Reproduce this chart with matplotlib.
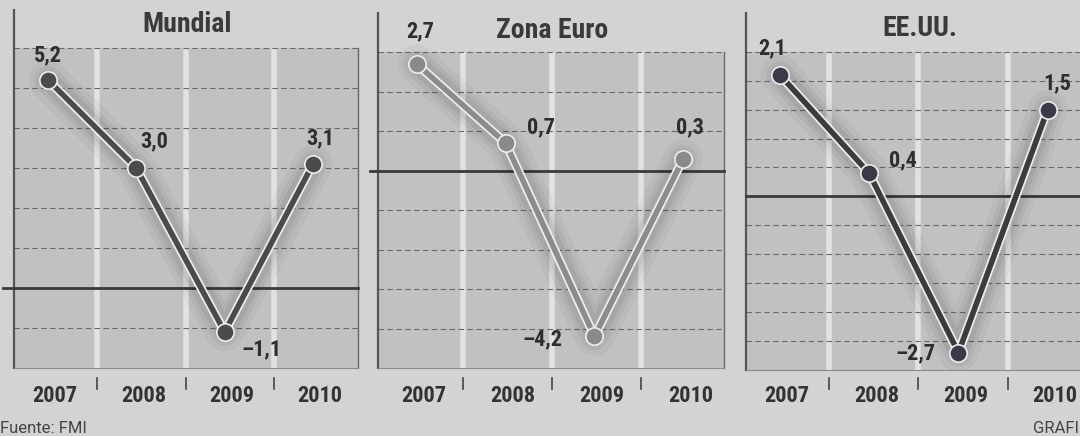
# -*- coding:utf-8 -*-
import matplotlib
matplotlib.use("Agg")
import matplotlib.pyplot as plt
import matplotlib.patheffects as pe
import matplotlib.transforms as mtransforms

years = ["2007", "2008", "2009", "2010"]

titles = ["Mundial", "Zona Euro", "EE.UU."]
mundial = [5.2, 3.0, -1.1, 3.1]
zona_euro = [2.7, 0.7, -4.2, 0.3]
eeuu = [2.1, 0.4, -2.7, 1.5]

W, H = 1080, 436
fig = plt.figure(figsize=(W / 100, H / 100), dpi=100)
fig.patch.set_facecolor("#d3d3d3")

cond = ["Roboto Condensed", "Archivo Narrow", "DejaVu Sans"]

# panel layout in pixels: left, right, top, bottom
panels = [
    dict(title=titles[0], vals=mundial, px=(14, 358, 10, 368), ylim=(-2, 6.95), step=1.0, top=6,
         xlim=(-0.385, 3.51), sep=0.56, zl=3, color="#4b4b4b", mcolor="#4b4b4b",
         title_xy=(187, 25),
         offs=[(0, 25), (18, 27), (37, -17), (7, 26)]),
    dict(title=titles[1], vals=zona_euro, px=(378, 724, 13, 368), ylim=(-5, 4.0), step=1.0, top=3,
         xlim=(-0.44, 3.46), sep=0.52, zl=370, color="#8c8c8c", mcolor="#8a8a8a",
         title_xy=(552, 30),
         offs=[(3, 33), (35, 16), (-52, -3), (7, 32)]),
    dict(title=titles[2], vals=eeuu, px=(746, 1095, 13, 370), ylim=(-3, 3.17), step=0.5, top=2.5,
         xlim=(-0.38, 3.53), sep=0.55, zl=746, color="#3c3c3c", mcolor="#3a3a48",
         title_xy=(920, 28),
         offs=[(-8, 27), (34, 13), (-43, -1), (10, 26)]),
]

for p in panels:
    l, r, t, b = p["px"]
    ax = fig.add_axes([l / W, 1 - b / H, (r - l) / W, (b - t) / H])
    ax.set_xlim(*p["xlim"])
    ax.set_ylim(*p["ylim"])
    ax.axis("off")
    ymin = p["ylim"][0]
    x0, x1 = p["xlim"]

    # plot background
    ax.fill_between([x0, x1], ymin, p["top"], color="#c1c1c1", zorder=0, lw=0)
    # white separators
    for i in range(3):
        ax.plot([i + p["sep"]] * 2, [ymin, p["top"]], color="#e2e2e2", lw=4, zorder=1,
                solid_capstyle="butt")
    # dashed grid
    n = int(round((p["top"] - ymin) / p["step"]))
    for k in range(1, n + 1):
        y = ymin + k * p["step"]
        if abs(y) < 1e-9:
            continue
        ax.plot([x0, x1], [y, y], color="#6a6a6a", lw=0.8, ls=(0, (5, 3)), zorder=2)
    # spines
    ax.plot([x0, x0], [ymin, p["ylim"][1]], color="#555555", lw=1.6, zorder=3, clip_on=False)
    ax.plot([x1, x1], [ymin, p["top"]], color="#6a6a6a", lw=1.0, zorder=3, clip_on=False)
    ax.plot([x0, x1], [ymin, ymin], color="#8a8a8a", lw=0.8, zorder=3, clip_on=False)
    # zero line
    zx0 = x0 + (p["zl"] - l) / (r - l) * (x1 - x0)
    ax.plot([zx0, x1], [0, 0], color="#3a3a3a", lw=2.0, zorder=3, clip_on=False)

    # series line with soft shadow and light outline
    xs = list(range(len(years)))
    shadow = [pe.withStroke(linewidth=w, foreground="#000000", alpha=a)
              for w, a in [(28, 0.035), (20, 0.045), (14, 0.06)]]
    ax.plot(xs, p["vals"], color=p["color"], lw=4, zorder=5, solid_capstyle="round",
            path_effects=shadow + [pe.Stroke(linewidth=6.5, foreground="#eeeeee"), pe.Normal()])
    ax.plot(xs, p["vals"], ls="none", marker="o", ms=12.5, mfc=p["mcolor"],
            mec="#eeeeee", mew=1.2, zorder=6)

    for xi, v, (dx, dy) in zip(xs, p["vals"], p["offs"]):
        lab = f"{v:.1f}".replace(".", ",").replace("-", "\u2013")
        ax.annotate(lab, (xi, v), xytext=(dx * 0.72, dy * 0.72), textcoords="offset points",
                    ha="center", va="center", fontsize=16, fontweight="bold",
                    family=cond, color="#2e2e2e", zorder=7, annotation_clip=False)

    # year labels and ticks below
    trans = mtransforms.blended_transform_factory(ax.transData, ax.transAxes)
    hpx = b - t
    for i, yr in enumerate(years):
        ax.text(i + 0.08, -(396 - b) / hpx, yr, transform=trans, ha="center", va="center",
                fontsize=16, fontweight="bold", family=cond, color="#333333", clip_on=False)
    for i in range(3):
        ax.plot([i + p["sep"]] * 2, [-(378 - b) / hpx, -(389 - b) / hpx], transform=trans,
                color="#444444", lw=1.2, clip_on=False)

    fig.text(p["title_xy"][0] / W, 1 - p["title_xy"][1] / H, p["title"], ha="center",
             va="center", fontsize=20, fontweight="bold", family=cond, color="#3a3a3a")

fig.text(0 / W, 1 - 428 / H, "Fuente: FMI", ha="left", va="center", fontsize=12,
         family=["Roboto", "DejaVu Sans"], color="#444444")
fig.text(1079 / W, 1 - 428 / H, "GRAFI", ha="right", va="center", fontsize=12,
         family=["Roboto", "DejaVu Sans"], color="#444444")

fig.savefig("out.png", dpi=100, facecolor=fig.get_facecolor())
